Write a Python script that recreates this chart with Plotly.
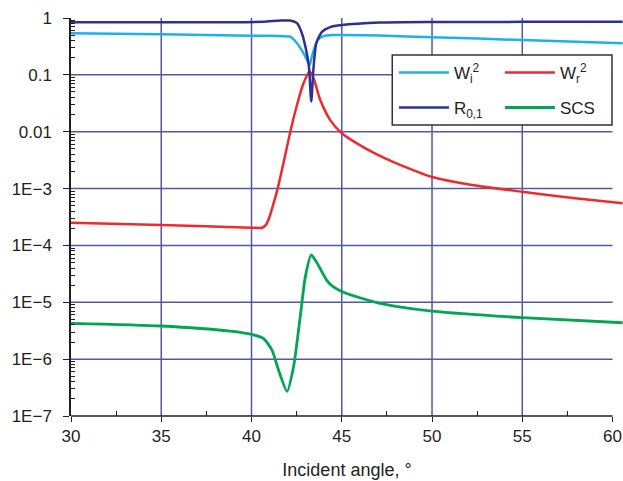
import plotly.graph_objects as go

# ---------------- data ----------------
wi_angle = [30, 35, 40, 41.6, 42.15, 42.52, 42.88, 43.05, 43.22, 43.33, 43.44, 43.66, 43.99, 44.5, 45, 47.1, 50, 55, 60.56]
wi_value = [0.537, 0.517, 0.489, 0.48, 0.47, 0.36, 0.24, 0.19, 0.149, 0.2, 0.27, 0.41, 0.48, 0.50, 0.50, 0.49, 0.46, 0.41, 0.36]

r_angle = [30, 35, 38.8, 40.67, 41.6, 42.15, 42.52, 42.79, 43.03, 43.18, 43.31, 43.44, 43.59, 43.9, 44.36, 45, 47.13, 50, 55, 60.56]
r_value = [0.84, 0.845, 0.845, 0.86, 0.90, 0.90, 0.81, 0.54, 0.27, 0.14, 0.034, 0.14, 0.36, 0.57, 0.69, 0.75, 0.83, 0.85, 0.855, 0.86]

wr_angle = [30, 35, 40, 40.58, 40.8, 41.0, 41.2, 41.45, 41.8, 42.15, 42.5, 42.88, 43.22, 43.44, 43.81, 44.36, 45, 46, 47, 48, 50, 52.5, 55, 57.8, 60.56]
wr_value = [2.51e-4, 2.29e-4, 2.05e-4, 2.05e-4, 2.3e-4, 3.2e-4, 5.2e-4, 1.0e-3, 3.1e-3, 1.0e-2, 0.028, 0.071, 0.114, 0.087, 0.036, 0.016, 0.0094, 0.0058, 0.0039, 0.0028, 1.6e-3, 1.12e-3, 8.8e-4, 6.8e-4, 5.5e-4]

scs_angle = [30, 35, 38.83, 40, 40.67, 41.13, 41.5, 41.97, 42.33, 42.7, 42.98, 43.31, 43.63, 44.18, 44.5, 45, 46, 47, 48, 50, 55, 60.56]
scs_value = [4.27e-6, 3.83e-6, 3.1e-6, 2.72e-6, 2.3e-6, 1.45e-6, 6.4e-7, 2.7e-7, 7.4e-7, 5.6e-6, 2.8e-5, 6.8e-5, 4.9e-5, 2.4e-5, 1.9e-5, 1.55e-5, 1.2e-5, 9.8e-6, 8.5e-6, 7.0e-6, 5.37e-6, 4.37e-6]

x_ticks = [30, 35, 40, 45, 50, 55, 60]
x_minor = [32.5, 37.5, 42.5, 47.5, 52.5, 57.5]
y_ticks = [1, 0.1, 0.01, 1e-3, 1e-4, 1e-5, 1e-6, 1e-7]
y_ticktext = ["1", "0.1", "0.01", "1E\u22123", "1E\u22124", "1E\u22125", "1E\u22126", "1E\u22127"]

FONT = "Liberation Sans, Arial, Helvetica, sans-serif"
GRID = "#5257a4"
AXIS = "#231f20"

fig = go.Figure()
fig.add_trace(go.Scatter(x=wi_angle, y=wi_value, mode="lines", name="W<sub>i</sub><sup>2</sup>",
                         legend="legend",
                         line=dict(color="#1cb1ec", width=2.5, shape="spline", smoothing=0.6)))
fig.add_trace(go.Scatter(x=wr_angle, y=wr_value, mode="lines", name="W<sub>r</sub><sup>2</sup>",
                         legend="legend",
                         line=dict(color="#ee2a2e", width=2.5, shape="spline", smoothing=0.6)))
fig.add_trace(go.Scatter(x=r_angle, y=r_value, mode="lines", name="R<sub>0,1</sub>",
                         legend="legend2",
                         line=dict(color="#2e3192", width=2.5, shape="spline", smoothing=0.6)))
fig.add_trace(go.Scatter(x=scs_angle, y=scs_value, mode="lines", name="SCS",
                         legend="legend2",
                         line=dict(color="#00a651", width=2.8, shape="spline", smoothing=0.6)))

shapes = []
for xv in x_ticks[1:-1]:
    shapes.append(dict(type="line", xref="x", yref="paper", x0=xv, x1=xv, y0=0, y1=1,
                       line=dict(color=GRID, width=1.5), layer="below"))
for yv in y_ticks[1:-1]:
    shapes.append(dict(type="line", xref="x", yref="y", x0=x_ticks[0], x1=x_ticks[-1], y0=yv, y1=yv,
                       line=dict(color=GRID, width=1.5), layer="below"))
shapes.append(dict(type="line", xref="x", yref="paper", x0=x_ticks[0], x1=x_ticks[-1], y0=0, y1=0,
                   line=dict(color=AXIS, width=1.5)))
# legend frame
shapes.append(dict(type="rect", xref="paper", yref="paper", x0=0.582, x1=0.980, y0=0.731, y1=0.907,
                   fillcolor="white", line=dict(color="#333333", width=1.5), layer="above"))

decades = [1e-7, 1e-6, 1e-5, 1e-4, 1e-3, 1e-2, 1e-1]
y_minor = [d * k for d in decades for k in range(2, 10)]

leg_common = dict(orientation="h", xanchor="left", yanchor="middle",
                  entrywidth=41, entrywidthmode="pixels", itemwidth=50,
                  bgcolor="rgba(0,0,0,0)", borderwidth=0,
                  font=dict(family=FONT, size=17, color="#231f20"), traceorder="normal")

fig.update_layout(
    width=623, height=481,
    margin=dict(l=70.5, r=0, t=18, b=65),
    paper_bgcolor="white", plot_bgcolor="white",
    font=dict(family=FONT, size=17, color="#231f20"),
    shapes=shapes,
    showlegend=True,
    legend=dict(x=0.585, y=0.862, **leg_common),
    legend2=dict(x=0.585, y=0.774, **leg_common),
    xaxis=dict(range=[30, 60.58], showgrid=False, zeroline=False, showline=False,
               tickmode="array", tickvals=x_ticks, ticks="outside", ticklen=5, tickwidth=1.2,
               tickcolor=AXIS, tickfont=dict(size=17),
               minor=dict(tickmode="array", tickvals=x_minor, ticks="inside", ticklen=5,
                          tickwidth=1.2, tickcolor=AXIS, showgrid=False),
               title=dict(text="Incident angle, \u00b0", font=dict(size=18), standoff=17)),
    yaxis=dict(type="log", range=[-7, 0], showgrid=False, zeroline=False,
               showline=True, linecolor=AXIS, linewidth=1.5,
               tickmode="array", tickvals=y_ticks, ticktext=y_ticktext,
               ticks="outside", ticklen=6, tickwidth=1.2, tickcolor=AXIS,
               ticklabelstandoff=8, tickfont=dict(size=17),
               minor=dict(tickmode="array", tickvals=y_minor, ticks="inside", ticklen=4,
                          tickwidth=1, tickcolor=AXIS, showgrid=False)),
)

fig.write_html("out.html")
